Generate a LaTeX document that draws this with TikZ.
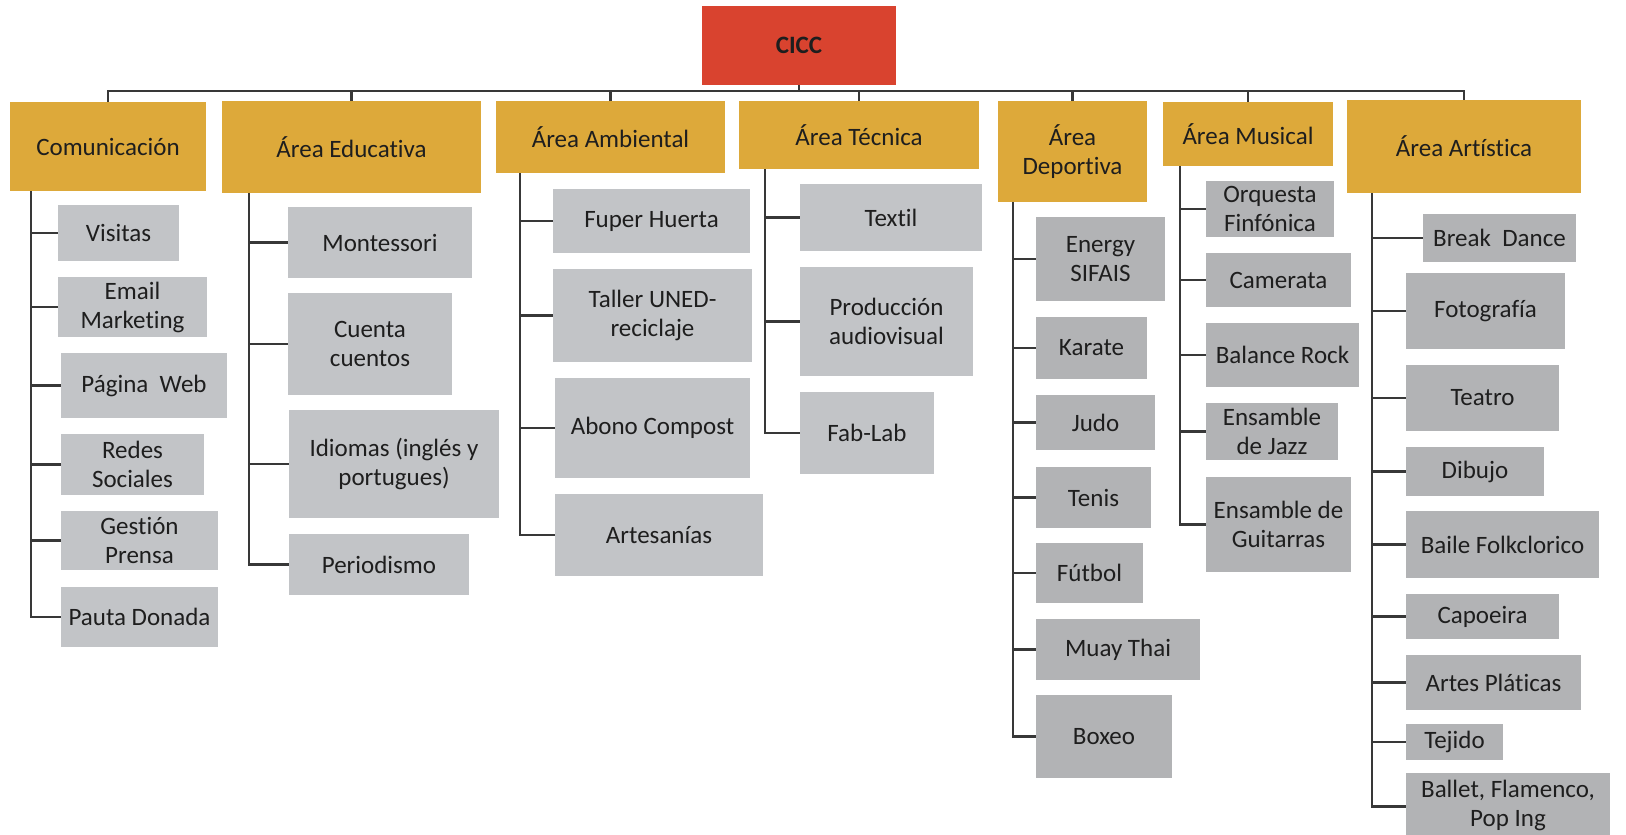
\documentclass[tikz,border=0pt]{standalone}
\usepackage{fontspec}
\setmainfont[RawFeature={-liga}]{Carlito}
\definecolor{gold}{HTML}{DDA93A}
\definecolor{rootred}{HTML}{D9432F}
\definecolor{boxgrey}{HTML}{C2C4C7}
\definecolor{boxgreyd}{HTML}{B2B3B5}
\definecolor{linegrey}{HTML}{383838}
\definecolor{ink}{HTML}{1E1E1E}
\tikzset{
  base/.style={inner sep=0pt, outer sep=0pt, align=center, text=ink,
    font=\fontsize{25}{29}\selectfont},
  root/.style={base, fill=rootred, font=\fontsize{25}{29}\selectfont\bfseries},
  area/.style={base, fill=gold},
  item/.style={base, fill=boxgrey},
  itemd/.style={base, fill=boxgreyd},
  conn/.style={draw=linegrey, line width=2.4pt},
}
% box: name, x1, y1, x2, y2, style, text   (pixel units, y downwards)
\newcommand\bx[7]{\node[#6, anchor=north west,
  minimum width={(#4-#2)*1pt}, minimum height={(#5-#3)*1pt}] (#1) at (#2,#3) {#7};}
\begin{document}
\begin{tikzpicture}[x=1pt, y=-1pt]
\useasboundingbox[fill=white] (0,0) rectangle (1626,835);

% top level
\bx{cicc}{702}{6}{896}{85}{root}{CICC}
\bx{comm}{10}{102}{206}{191}{area}{Comunicación}
\bx{educ}{222}{101}{481}{193}{area}{Área Educativa}
\bx{amb}{496}{101}{725}{173}{area}{Área Ambiental}
\bx{tec}{739}{101}{979}{169}{area}{Área Técnica}
\bx{dep}{998}{101}{1147}{202}{area}{Área\\Deportiva}
\bx{mus}{1163}{102}{1333}{166}{area}{Área Musical}
\bx{art}{1347}{100}{1581}{193}{area}{Área Artística}

% Comunicación
\bx{c1}{58}{205}{179}{261}{item}{Visitas}
\bx{c2}{58}{277}{207}{337}{item}{Email\\Marketing}
\bx{c3}{61}{353}{227}{418}{item}{Página~ Web}
\bx{c4}{61}{434}{204}{495}{item}{Redes\\Sociales}
\bx{c5}{61}{511}{218}{570}{item}{Gestión\\Prensa}
\bx{c6}{61}{587}{218}{647}{item}{Pauta Donada}

% Área Educativa
\bx{e1}{288}{207}{472}{278}{item}{Montessori}
\bx{e2}{288}{293}{452}{395}{item}{Cuenta\\cuentos}
\bx{e3}{289}{410}{499}{518}{item}{Idiomas (inglés y\\portugues)}
\bx{e4}{289}{534}{469}{595}{item}{Periodismo}

% Área Ambiental
\bx{a1}{553}{189}{750}{253}{item}{Fuper Huerta}
\bx{a2}{553}{269}{752}{362}{item}{Taller UNED-\\reciclaje}
\bx{a3}{555}{378}{750}{478}{item}{Abono Compost}
\bx{a4}{555}{494}{763}{576}{item}{Artesanías}

% Área Técnica
\bx{t1}{800}{184}{982}{251}{item}{Textil}
\bx{t2}{800}{267}{973}{376}{item}{Producción\\audiovisual}
\bx{t3}{800}{392}{934}{474}{item}{Fab-Lab}

% Área Deportiva
\bx{d1}{1036}{217}{1165}{301}{itemd}{Energy\\SIFAIS}
\bx{d2}{1036}{317}{1147}{379}{itemd}{Karate}
\bx{d3}{1036}{395}{1155}{450}{itemd}{Judo}
\bx{d4}{1036}{467}{1151}{528}{itemd}{Tenis}
\bx{d5}{1036}{543}{1143}{603}{itemd}{Fútbol}
\bx{d6}{1036}{619}{1200}{680}{itemd}{Muay Thai}
\bx{d7}{1036}{695}{1172}{778}{itemd}{Boxeo}

% Área Musical
\bx{m1}{1206}{181}{1334}{237}{itemd}{Orquesta\\Finfónica}
\bx{m2}{1206}{253}{1351}{307}{itemd}{Camerata}
\bx{m3}{1206}{323}{1359}{387}{itemd}{Balance Rock}
\bx{m4}{1206}{403}{1338}{460}{itemd}{Ensamble\\de Jazz}
\bx{m5}{1206}{477}{1351}{572}{itemd}{Ensamble de\\Guitarras}

% Área Artística
\bx{r1}{1423}{214}{1576}{262}{itemd}{Break~ Dance}
\bx{r2}{1406}{273}{1565}{349}{itemd}{Fotografía}
\bx{r3}{1406}{365}{1559}{431}{itemd}{Teatro}
\bx{r4}{1406}{447}{1544}{496}{itemd}{Dibujo}
\bx{r5}{1406}{511}{1599}{578}{itemd}{Baile Folkclorico}
\bx{r6}{1406}{594}{1559}{639}{itemd}{Capoeira}
\bx{r7}{1406}{655}{1581}{710}{itemd}{Artes Pláticas}
\bx{r8}{1406}{724}{1503}{760}{itemd}{Tejido}
\bx{r9}{1406}{773}{1610}{838}{itemd}{Ballet, Flamenco,\\Pop Ing}

% bus from the root to the areas
\coordinate (bus) at (800,91);
\draw[conn] (cicc.south) -- (cicc.south |- bus);
\draw[conn] (comm.north) |- (bus) -| (art.north);
\foreach \h in {educ,amb,tec,dep,mus}
  \draw[conn] (\h.north) -- (\h.north |- bus);

% trunk start points under each area
\coordinate (commT) at (31,191);
\coordinate (educT) at (249,193);
\coordinate (ambT) at (520,173);
\coordinate (tecT) at (765,169);
\coordinate (depT) at (1013,202);
\coordinate (musT) at (1180,166);
\coordinate (artT) at (1372,193);

\foreach \c in {c1,c2,c3,c4,c5,c6} \draw[conn] (commT) |- (\c.west);
\foreach \c in {e1,e2,e3,e4} \draw[conn] (educT) |- (\c.west);
\foreach \c in {a1,a2,a3,a4} \draw[conn] (ambT) |- (\c.west);
\foreach \c in {t1,t2,t3} \draw[conn] (tecT) |- (\c.west);
\foreach \c in {d1,d2,d3,d4,d5,d6,d7} \draw[conn] (depT) |- (\c.west);
\foreach \c in {m1,m2,m3,m4,m5} \draw[conn] (musT) |- (\c.west);
\foreach \c in {r1,r2,r3,r4,r5,r6,r7,r8} \draw[conn] (artT) |- (\c.west);
\draw[conn] (artT) |- ([yshift=-1pt]r9.west);
\end{tikzpicture}
\end{document}
